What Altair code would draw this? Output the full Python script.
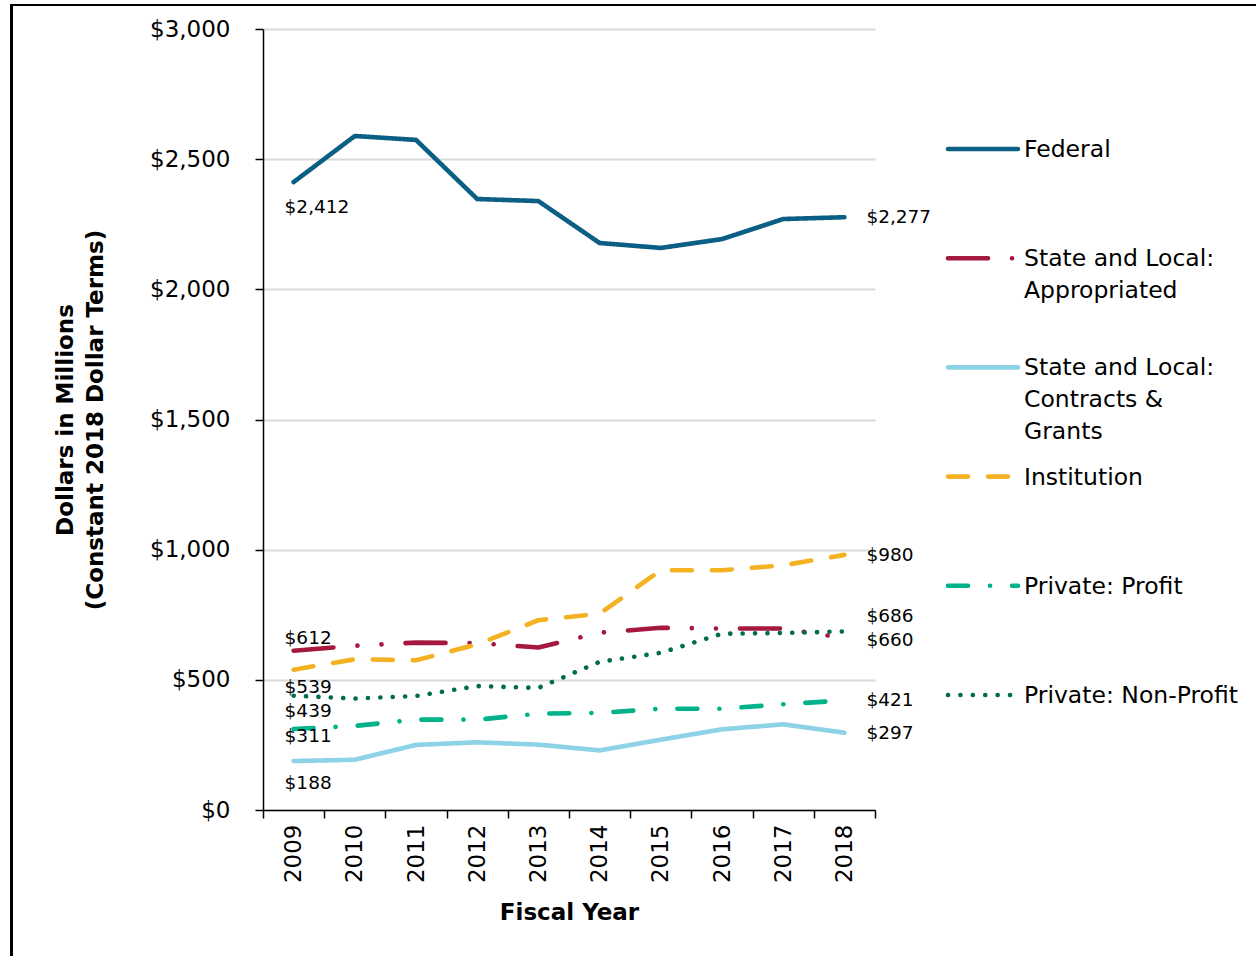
import altair as alt
import pandas as pd

FONT = "DejaVu Sans"

# Fiscal years and spending by source (millions, constant 2018 dollars)
years = list(range(2009, 2019))
series = [
    "Federal",
    "State and Local: Appropriated",
    "State and Local: Contracts & Grants",
    "Institution",
    "Private: Profit",
    "Private: Non-Profit",
]
federal = [2412, 2589, 2574, 2347, 2339, 2178, 2159, 2193, 2270, 2277]
appropriated = [612, 631, 643, 641, 624, 681, 700, 697, 697, 660]
contracts = [188, 193, 250, 260, 251, 229, 270, 310, 329, 297]
institution = [539, 579, 575, 636, 729, 754, 921, 921, 940, 980]
profit = [311, 323, 347, 347, 370, 373, 389, 389, 406, 421]
nonprofit = [439, 428, 438, 476, 469, 569, 604, 677, 680, 686]
legend_labels = [
    "Federal",
    "State and Local:\nAppropriated",
    "State and Local:\nContracts &\nGrants",
    "Institution",
    "Private: Profit",
    "Private: Non-Profit",
]
y_ticks = [0, 500, 1000, 1500, 2000, 2500, 3000]

# styling
colors = ["#0C5F84", "#A6193F", "#8DD2E6", "#F4B223", "#00B28A", "#006B4F"]
dashes = [[1, 0], [40, 24, 0.1, 24, 0.1, 24], [1, 0], [20, 20], [20, 22, 0.1, 22], [0.1, 12.3]]
left_dy = {series[0]: 25, series[1]: -13, series[2]: 22, series[3]: 17, series[4]: 7, series[5]: 15}
right_dy = {series[0]: 0, series[1]: 2, series[2]: 0, series[3]: 0, series[4]: 0, series[5]: -15}

values_by_series = [federal, appropriated, contracts, institution, profit, nonprofit]
rows = []
for name, vals in zip(series, values_by_series):
    for yr, v in zip(years, vals):
        rows.append({"series": name, "year": yr, "value": v})
df = pd.DataFrame(rows)

W, H = 612, 781

color_enc = alt.Color("series:N", scale=alt.Scale(domain=series, range=colors), legend=None)
dash_enc = alt.StrokeDash("series:N", scale=alt.Scale(domain=series, range=dashes), legend=None)

x_enc = alt.X(
    "year:O",
    bandPosition=0.5,
    scale=alt.Scale(type="band", paddingInner=0, paddingOuter=0),
    axis=alt.Axis(
        title="Fiscal Year",
        labelAngle=-90,
        tickBand="extent",
        grid=False,
        tickSize=8,
        labelPadding=6,
        titlePadding=19,
    ),
)
y_enc = alt.Y(
    "value:Q",
    scale=alt.Scale(domain=[0, 3000]),
    axis=alt.Axis(
        values=y_ticks,
        format="$,.0f",
        title=["Dollars in Millions", "(Constant 2018 Dollar Terms)"],
        titleLineHeight=30,
        tickSize=8,
        labelPadding=25,
        titlePadding=42,
        grid=True,
    ),
)

base = alt.Chart(df)

lines = base.mark_line(strokeWidth=4.6, strokeCap="round", strokeJoin="round").encode(
    x=x_enc, y=y_enc, color=color_enc, strokeDash=dash_enc, detail="series:N"
)

label_layers = []
for name in series:
    label_layers.append(
        base.transform_filter(
            (alt.datum.series == name) & (alt.datum.year == years[0])
        ).mark_text(align="left", baseline="middle", dx=-9, dy=left_dy[name],
                    fontSize=18.5, font=FONT, color="black").encode(
            x=alt.X("year:O", bandPosition=0.5),
            y="value:Q",
            text=alt.Text("value:Q", format="$,.0f"),
        )
    )
    label_layers.append(
        base.transform_filter(
            (alt.datum.series == name) & (alt.datum.year == years[-1])
        ).mark_text(align="left", baseline="middle", dx=22, dy=right_dy[name],
                    fontSize=18.5, font=FONT, color="black").encode(
            x=alt.X("year:O", bandPosition=0.5),
            y="value:Q",
            text=alt.Text("value:Q", format="$,.0f"),
        )
    )

# figure frame (left edge and top edge)
frame_src = pd.DataFrame({"k": [0]})
frame_v = alt.Chart(frame_src).mark_rule(color="black", strokeWidth=3).encode(
    x=alt.value(-251.5), y=alt.value(-24), y2=alt.value(927)
)
frame_h = alt.Chart(frame_src).mark_rule(color="black", strokeWidth=2).encode(
    x=alt.value(-253), x2=alt.value(993), y=alt.value(-24)
)

main = alt.layer(lines, *label_layers, frame_v, frame_h).properties(width=W, height=H)

# legend panel
leg_df = pd.DataFrame({"series": series, "label": legend_labels, "idx": list(range(len(series)))})
leg_y = alt.Y("idx:Q", scale=alt.Scale(domain=[0, 5], range=[120, 666]), axis=None)
leg_rules = alt.Chart(leg_df).mark_rule(strokeWidth=4.6, strokeCap="round").encode(
    x=alt.value(0), x2=alt.value(70), y=leg_y, color=color_enc, strokeDash=dash_enc
)
leg_text = alt.Chart(leg_df).mark_text(
    align="left", baseline="top", dy=-11, lineBreak="\n", lineHeight=32,
    fontSize=23.5, font=FONT, color="black"
).encode(x=alt.value(76), y=leg_y, text="label:N")
legend = alt.layer(leg_rules, leg_text).properties(width=290, height=H)

chart = (
    alt.hconcat(main, legend, spacing=73, bounds="flush")
    .properties(padding={"left": 9, "top": 3, "right": 0, "bottom": 0}, background="white")
    .configure_view(strokeWidth=0)
    .configure_axis(
        labelFont=FONT,
        labelFontSize=23,
        labelColor="black",
        titleFont=FONT,
        titleFontSize=23,
        titleFontWeight="bold",
        titleColor="black",
        domainColor="black",
        domainWidth=1.5,
        tickColor="black",
        tickWidth=1.5,
        gridColor="#D9D9D9",
        gridWidth=2,
    )
)

chart.save("out.html", embed_options={"renderer": "svg", "actions": False})
